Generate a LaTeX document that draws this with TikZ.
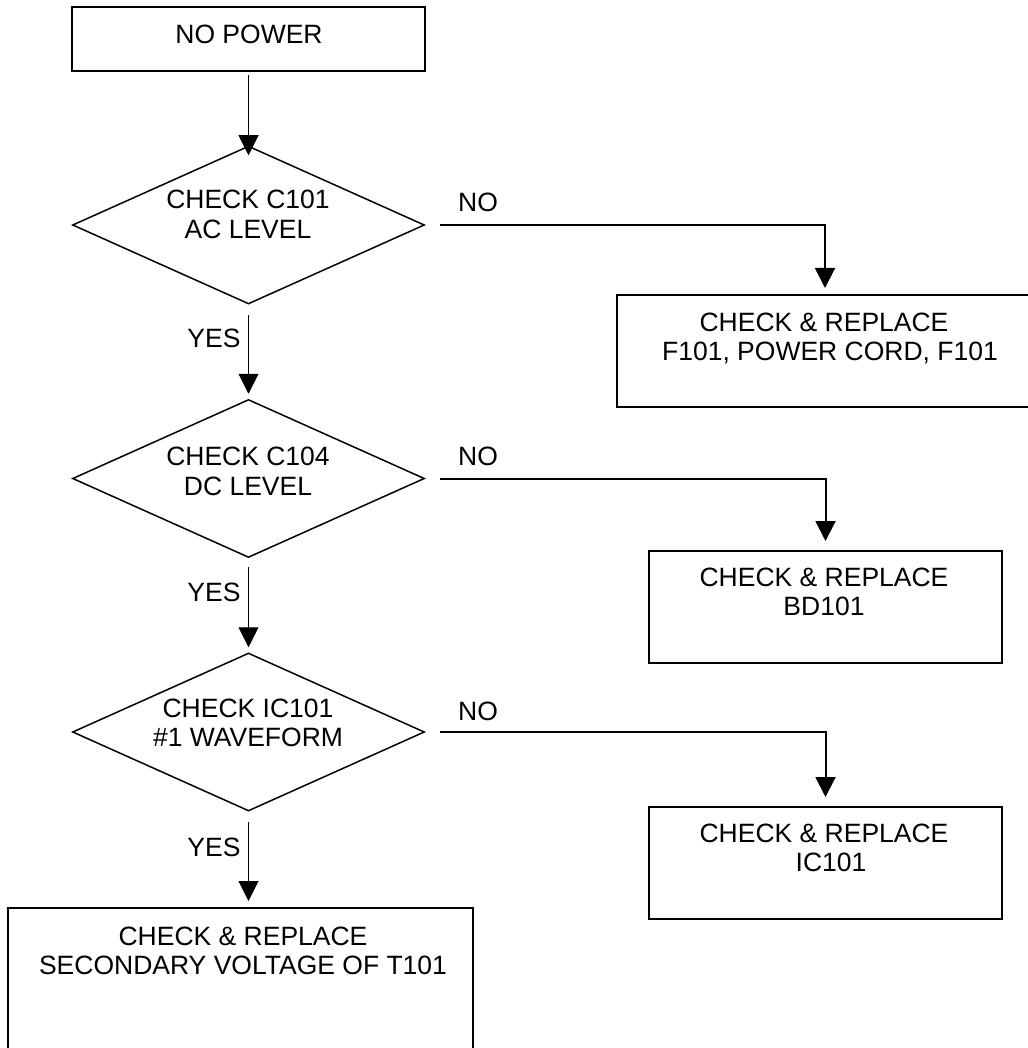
\documentclass[tikz,border=0pt]{standalone}
\usepackage{fontspec}
\setmainfont{Liberation Sans}
\usetikzlibrary{shapes.geometric,arrows.meta,calc}
\begin{document}
\begin{tikzpicture}[x=1pt,y=-1pt,
  boxst/.style={draw=black,line width=2pt,rectangle,inner sep=0pt},
  diamst/.style={draw=black,line width=1.5pt,diamond,inner sep=0pt,minimum width=352pt,minimum height=158pt},
  txt/.style={inner sep=0pt,align=center,font=\fontsize{26.5pt}{29.5pt}\selectfont},
  noline/.style={line width=2pt,-{Triangle[width=20pt,length=20pt]}},
  yesline/.style={line width=1pt,-{Triangle[width=20pt,length=20pt]}}]
\useasboundingbox[fill=white] (0,0) rectangle (1027,1048);

% shapes
\node[boxst,minimum width=353pt,minimum height=64pt] (np) at (248.5,39) {};
\node[diamst] (d1) at (248.5,225) {};
\node[diamst] (d2) at (248.5,478.5) {};
\node[diamst] (d3) at (248.5,732) {};
\node[boxst,minimum width=416pt,minimum height=112pt] (b2) at (825,351) {};
\node[boxst,minimum width=353pt,minimum height=112pt] (b3) at (825.5,607) {};
\node[boxst,minimum width=353pt,minimum height=112pt] (b4) at (825.5,863) {};
\node[boxst,minimum width=465pt,minimum height=152pt] (b5) at (240.5,984) {};

% texts
\node[txt] (tnp) at (249,34) {NO POWER};
\node[txt] (td1) at (248,214.5) {CHECK C101\\AC LEVEL};
\node[txt] (td2) at (248,471.5) {CHECK C104\\DC LEVEL};
\node[txt] (td3) at (248,723) {CHECK IC101\\\#1 WAVEFORM};
\node[txt] (tb2) at (824,338.5) {CHECK \& REPLACE\\\hspace*{12pt}F101, POWER CORD, F101};
\node[txt] (tb3) at (824,592) {CHECK \& REPLACE\\BD101};
\node[txt] (tb4) at (824,848) {CHECK \& REPLACE\\\hspace*{14pt}IC101};
\node[txt] (tb5) at (243,951) {CHECK \& REPLACE\\SECONDARY VOLTAGE OF T101};

% labels
\node[txt] (y1) at (214,338.5) {YES};
\node[txt] (y2) at (214,592) {YES};
\node[txt] (y3) at (214,847.5) {YES};
\node[txt] (n1) at (478,202.5) {NO};
\node[txt] (n2) at (478,456) {NO};
\node[txt] (n3) at (478,711.5) {NO};

% connectors
\draw[yesline] ($(np.south)+(0,3)$) -- ($(d1.north)+(0,10)$);
\draw[yesline] ($(d1.south)+(0,10)$) -- ($(d2.north)+(0,-5)$);
\draw[yesline] ($(d2.south)+(0,9)$) -- ($(d3.north)+(0,-5)$);
\draw[yesline] ($(d3.south)+(0,10)$) -- ($(d3.south |- b5.north)+(0,-6)$);
\draw[noline] ($(d1.east)+(15,0)$) -| ($(b2.north)+(0,-6)$);
\draw[noline] ($(d2.east)+(15,0)$) -| ($(b3.north)+(0,-9)$);
\draw[noline] ($(d3.east)+(15,0)$) -| ($(b4.north)+(0,-9)$);
\end{tikzpicture}
\end{document}
